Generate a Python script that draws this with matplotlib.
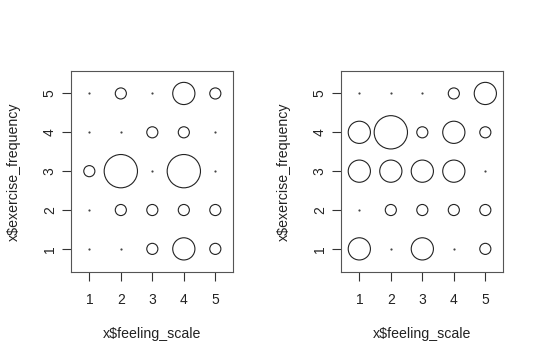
import numpy as np
import matplotlib
matplotlib.use("Agg")
import matplotlib.pyplot as plt

plt.rcParams['font.family'] = ['Liberation Sans', 'DejaVu Sans']

# grid positions: feeling_scale (x) and exercise_frequency (y)
feeling_scale = [1, 2, 3, 4, 5]
exercise_frequency = [1, 2, 3, 4, 5]

# counts per cell, rows = exercise_frequency 1..5, cols = feeling_scale 1..5
counts_left = [
    [0, 0, 1, 2, 1],
    [0, 1, 1, 1, 1],
    [1, 3, 0, 3, 0],
    [0, 0, 1, 1, 0],
    [0, 1, 0, 2, 1],
]
counts_right = [
    [2, 0, 2, 0, 1],
    [0, 1, 1, 1, 1],
    [2, 2, 2, 2, 0],
    [2, 3, 1, 2, 1],
    [0, 0, 0, 1, 2],
]

fig = plt.figure(figsize=(5.4, 3.6), dpi=100)
ax_left = fig.add_axes([0.131, 0.245, 0.301, 0.558])
ax_right = fig.add_axes([0.631, 0.245, 0.301, 0.558])

# diameter in points for one count (radius ~5.55 px at 100 dpi)
diam_per_count = 2 * 5.55 * 0.72

for ax, counts in [(ax_left, counts_left), (ax_right, counts_right)]:
    c = np.array(counts)
    xx, yy = np.meshgrid(feeling_scale, exercise_frequency)
    xx, yy, c = xx.ravel(), yy.ravel(), c.ravel()
    big = c > 0
    ax.scatter(xx[big], yy[big], s=(c[big] * diam_per_count) ** 2,
               facecolors='none', edgecolors='#222222', linewidths=0.8)
    ax.scatter(xx[~big], yy[~big], s=2.5, color='#444444', linewidths=0)
    ax.set_xlim(0.41, 5.57)
    ax.set_ylim(0.41, 5.58)
    ax.set_xticks(feeling_scale)
    ax.set_yticks(exercise_frequency)
    ax.set_yticklabels([str(v) for v in exercise_frequency], rotation=90, va='center')
    ax.tick_params(direction='out', length=6.5, width=0.8, colors='#333333',
                   labelsize=10, labelcolor='#222222')
    ax.tick_params(axis='x', pad=8.5)
    ax.tick_params(axis='y', pad=3.5)
    for sp in ax.spines.values():
        sp.set_color('#555555')
        sp.set_linewidth(0.8)
    ax.set_xlabel("x$feeling_scale", fontsize=10.2, labelpad=14.5, color='#222222')
    ax.set_ylabel("x$exercise_frequency", fontsize=10.2, labelpad=16, color='#222222')

plt.savefig("out.png", dpi=100)
